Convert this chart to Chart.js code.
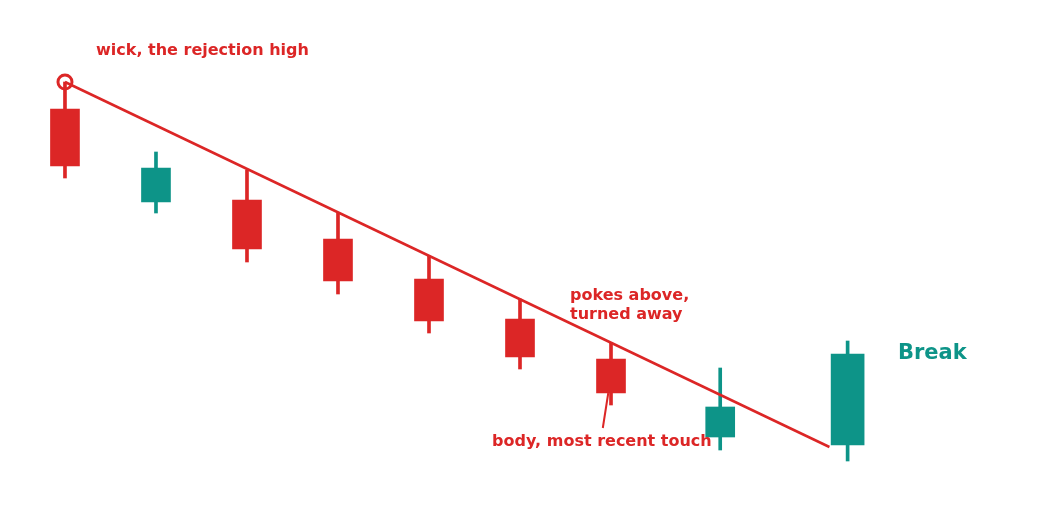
<!DOCTYPE html>
<html>
<head>
<meta charset="utf-8">
<script src="https://cdn.jsdelivr.net/npm/chart.js@4"></script>
<style>
  html, body { margin: 0; padding: 0; background: #fff; }
  #wrap { width: 1040px; height: 530px; }
</style>
</head>
<body>
<div id="wrap"><canvas id="chart"></canvas></div>
<script>
// candle positions and prices
const xs     = [0, 1, 2, 3, 4, 5, 6, 7.2, 8.6];
const opens  = [102.1, 92.8, 93.0, 89.1, 85.1, 81.1, 77.1, 69.3, 68.5];
const highs  = [104.8, 97.8, 96.0, 91.7, 87.4, 83.1, 78.7, 76.2, 78.9];
const lows   = [95.2, 91.7, 86.8, 83.6, 79.7, 76.1, 72.5, 68.0, 66.9];
const closes = [96.4, 96.2, 88.1, 84.9, 80.9, 77.3, 73.7, 72.3, 77.6];

// descending trendline through the highs
const trendX = [0, 8.4];
const trendY = [104.8, 68.3];

// pointer from the label to the last touching body
const pointerX = [5.91, 5.97];
const pointerY = [70.2, 73.7];

const RED = 'rgb(220,38,38)';
const TEAL = 'rgb(13,148,136)';

const colors = xs.map((x, i) => closes[i] >= opens[i] ? TEAL : RED);
const bodies = xs.map((x, i) => ({ x: x, y: [Math.min(opens[i], closes[i]), Math.max(opens[i], closes[i])] }));
const wicks = xs.map((x, i) => ({ x: x, y: [lows[i], highs[i]] }));
const last = xs.length - 1;

const labelsPlugin = {
    id: 'labels',
    afterDraw(chart) {
        const ctx = chart.ctx;
        ctx.save();
        ctx.textBaseline = 'middle';
        ctx.textAlign = 'left';
        ctx.fillStyle = RED;
        ctx.font = 'bold 16px "DejaVu Sans"';
        ctx.fillText('wick, the rejection high', 96, 51);
        ctx.fillText('pokes above,', 570, 296);
        ctx.fillText('turned away', 570, 315);
        ctx.fillText('body, most recent touch', 492, 442);
        ctx.fillStyle = TEAL;
        ctx.font = 'bold 21px "DejaVu Sans"';
        ctx.fillText('Break', 898, 354);
        ctx.restore();
    }
};

new Chart(document.getElementById('chart'), {
    type: 'bar',
    data: {
        datasets: [
            {
                label: 'pointer',
                type: 'line',
                data: pointerX.map((x, i) => ({ x: x, y: pointerY[i] })),
                borderColor: RED,
                borderWidth: 2,
                pointRadius: 0,
                order: 1,
            },
            {
                label: 'trend',
                type: 'line',
                data: trendX.map((x, i) => ({ x: x, y: trendY[i] })),
                borderColor: RED,
                borderWidth: 2.5,
                pointRadius: 0,
                order: 1,
            },
            {
                label: 'rejection',
                type: 'scatter',
                data: [{ x: xs[0], y: highs[0] }],
                pointRadius: 7,
                pointBorderWidth: 3,
                borderColor: RED,
                backgroundColor: 'rgba(0,0,0,0)',
                order: 0,
            },
            {
                label: 'bodies',
                data: bodies.slice(0, last),
                backgroundColor: colors.slice(0, last),
                barThickness: 29,
                grouped: false,
                order: 2,
            },
            {
                label: 'breakBody',
                data: bodies.slice(last),
                backgroundColor: colors.slice(last),
                barThickness: 33,
                grouped: false,
                order: 2,
            },
            {
                label: 'wicks',
                data: wicks,
                backgroundColor: colors,
                barThickness: 3,
                grouped: false,
                order: 3,
            },
        ],
    },
    options: {
        responsive: true,
        maintainAspectRatio: false,
        animation: false,
        layout: { padding: 0, autoPadding: false },
        scales: {
            x: { type: 'linear', display: false, offset: false, min: -0.714, max: 10.714 },
            y: { type: 'linear', display: false, min: 60, max: 113 },
        },
        plugins: {
            legend: { display: false },
            tooltip: { enabled: false },
        },
    },
    plugins: [labelsPlugin],
});
</script>
</body>
</html>
